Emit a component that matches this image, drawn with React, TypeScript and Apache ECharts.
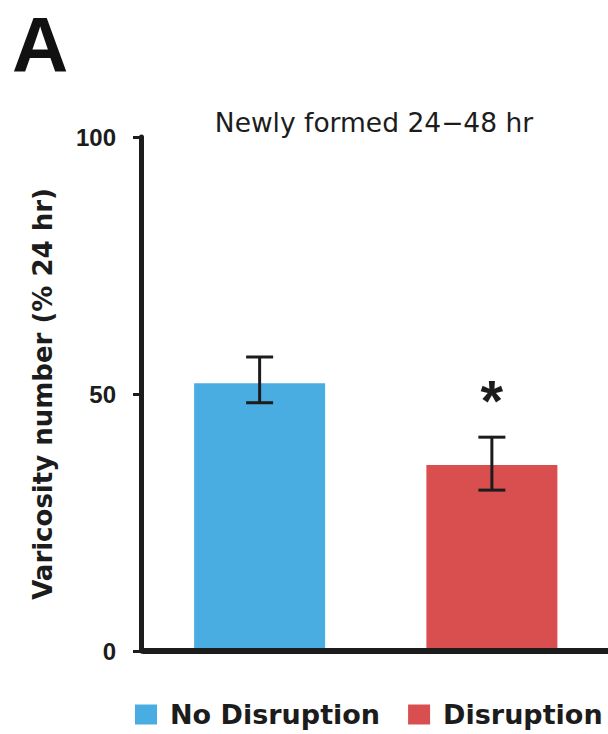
import React, { useEffect, useRef } from "react";
import * as echarts from "echarts";

const categories = ["No Disruption", "Disruption"];
const means = [52.1, 36.2];
const errLow = [48.3, 31.3];
const errHigh = [57.2, 41.6];
const significance = ["", "*"];
const colors = ["#4AADE2", "#D94F50"];
const yMin = 0;
const yMax = 100;
const yInterval = 50;
const panelLetter = "A";
const chartTitle = "Newly formed 24\u221248 hr";
const yAxisTitle = "Varicosity number (% 24 hr)";

export default function App() {
  const ref = useRef<HTMLDivElement>(null);
  useEffect(() => {
    const chart = echarts.init(ref.current!, null, { renderer: "svg" });
    const font = "DejaVu Sans";
    const ink = "#1c1c1c";
    const barSeries = categories.map((name, i) => ({
      name,
      type: "bar",
      barWidth: 131,
      barGap: "-100%",
      itemStyle: { color: colors[i] },
      data: categories.map((_, j) => (j === i ? means[i] : "-")),
      z: 2,
    }));
    chart.setOption({
      animation: false,
      grid: { left: 143.5, right: -2, top: 137, bottom: 83 },
      xAxis: {
        type: "category",
        data: categories,
        axisLine: { lineStyle: { color: ink, width: 6 } },
        axisTick: { show: false },
        axisLabel: { show: false },
        z: 5,
      },
      yAxis: {
        type: "value",
        min: yMin,
        max: yMax,
        interval: yInterval,
        offset: 2.5,
        splitLine: { show: false },
        axisLine: { show: true, lineStyle: { color: ink, width: 5 } },
        axisTick: { show: true, length: 8, lineStyle: { color: ink, width: 3 } },
        axisLabel: {
          fontFamily: "Liberation Sans",
          fontWeight: "bold",
          fontSize: 24,
          color: ink,
          margin: 25,
        },
      },
      legend: {
        data: categories,
        left: 130,
        top: 696,
        icon: "rect",
        itemWidth: 22,
        itemHeight: 20,
        itemGap: 28,
        textStyle: {
          fontFamily: font,
          fontWeight: "bold",
          fontSize: 27,
          color: ink,
          padding: [0, 0, 0, 8],
        },
      },
      graphic: [
        {
          type: "text",
          x: 12,
          y: 45,
          style: {
            text: panelLetter,
            font: "bold 78px 'Liberation Sans'",
            fill: "#111",
            verticalAlign: "middle",
          },
        },
        {
          type: "text",
          x: 374,
          y: 122,
          style: {
            text: chartTitle,
            font: `26.5px '${font}'`,
            fill: ink,
            align: "center",
            verticalAlign: "middle",
          },
        },
        {
          type: "text",
          x: 43,
          y: 394,
          rotation: Math.PI / 2,
          style: {
            text: yAxisTitle,
            font: `bold 26px '${font}'`,
            fill: ink,
            align: "center",
            verticalAlign: "middle",
          },
        },
      ],
      series: [
        ...barSeries,
        {
          type: "custom",
          name: "error",
          z: 10,
          data: categories.map((_, i) => [i, errLow[i], errHigh[i]]),
          encode: { x: 0, y: [1, 2] },
          renderItem: (params: any, api: any) => {
            const idx = api.value(0);
            const lo = api.coord([idx, api.value(1)]);
            const hi = api.coord([idx, api.value(2)]);
            const hw = 13.5;
            const style = { stroke: ink, lineWidth: 3 };
            const children: any[] = [
              { type: "line", shape: { x1: hi[0], y1: hi[1], x2: lo[0], y2: lo[1] }, style },
              { type: "line", shape: { x1: hi[0] - hw, y1: hi[1], x2: hi[0] + hw, y2: hi[1] }, style },
              { type: "line", shape: { x1: lo[0] - hw, y1: lo[1], x2: lo[0] + hw, y2: lo[1] }, style },
            ];
            const sig = significance[params.dataIndex];
            if (sig) {
              children.push({
                type: "text",
                x: hi[0],
                y: hi[1] - 37,
                style: {
                  text: sig,
                  font: `bold 58px 'Liberation Sans'`,
                  fill: ink,
                  align: "center",
                  verticalAlign: "middle",
                },
              });
            }
            return { type: "group", children };
          },
        },
      ],
    });
    return () => chart.dispose();
  }, []);
  return (
    <div
      ref={ref}
      style={{ position: "absolute", left: 0, top: 0, width: 608, height: 734, background: "#fff" }}
    />
  );
}
